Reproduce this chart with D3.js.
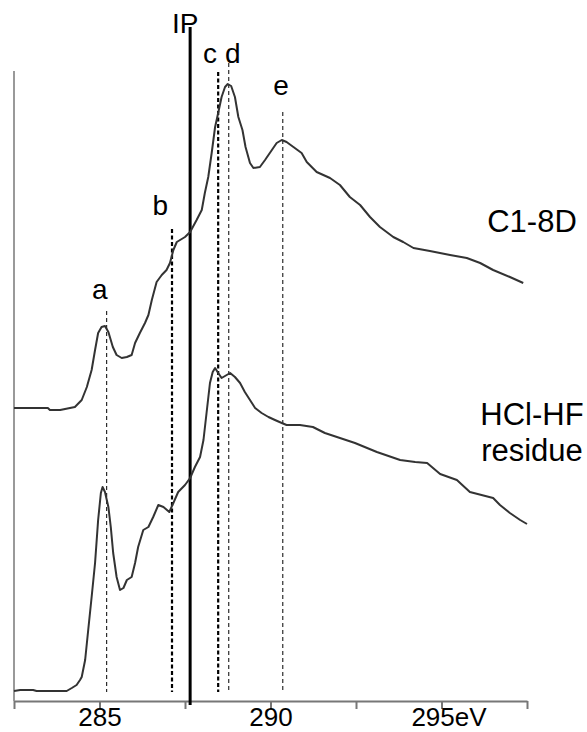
<!DOCTYPE html>
<html>
<head>
<meta charset="utf-8">
<script src="https://cdn.jsdelivr.net/npm/d3@7"></script>
<style>
  body { margin: 0; background: #fff; }
  text { font-family: "Liberation Sans", Arial, sans-serif; fill: #000; }
</style>
</head>
<body>
<div id="chart"></div>
<script>
// photon energy (eV) and intensity (arbitrary units)
const c18Energy = [282.5, 283.49, 283.55, 283.85, 284.28, 284.48, 284.63, 284.77, 284.87, 284.96,
  285.06, 285.16, 285.26, 285.39, 285.5, 285.65, 285.8, 285.94, 286.04, 286.18, 286.33, 286.43,
  286.53, 286.67, 286.82, 286.96, 287.06, 287.16, 287.26, 287.5, 287.65, 287.84, 287.99, 288.08,
  288.18, 288.28, 288.38, 288.47, 288.57, 288.67, 288.75, 288.85, 288.96, 289.06, 289.18, 289.27,
  289.4, 289.5, 289.69, 289.84, 290.04, 290.18, 290.33, 290.47, 290.67, 290.91, 291.06, 291.35,
  291.74, 292.03, 292.32, 292.62, 292.91, 293.2, 293.59, 293.88, 294.18, 294.66, 295.25, 295.74,
  296.13, 296.51, 297.0, 297.39]
const c18Intensity = [293, 293, 291, 291, 294, 301, 314, 331, 351, 368,
  374, 375, 369, 354, 346, 343, 344, 346, 358, 368, 378, 386,
  401, 419, 426, 431, 438, 451, 459, 464, 469, 481, 491, 508,
  524, 548, 574, 588, 604, 614, 617, 615, 604, 584, 571, 554,
  538, 533, 534, 541, 551, 558, 561, 559, 554, 548, 539, 529,
  523, 516, 504, 496, 484, 474, 464, 459, 453, 450, 446, 443,
  438, 431, 424, 418]

const hclEnergy = [282.5, 282.68, 283.06, 283.16, 284.04, 284.19, 284.33, 284.43, 284.48, 284.58,
  284.67, 284.77, 284.87, 284.96, 285.04, 285.09, 285.16, 285.26, 285.33, 285.4, 285.5, 285.6,
  285.7, 285.8, 285.94, 286.04, 286.13, 286.28, 286.43, 286.57, 286.72, 286.87, 287.04, 287.16,
  287.3, 287.5, 287.65, 287.79, 287.94, 288.04, 288.13, 288.23, 288.31, 288.38, 288.47, 288.57,
  288.67, 288.82, 288.96, 289.11, 289.25, 289.4, 289.55, 289.74, 289.94, 290.13, 290.33, 290.47,
  290.86, 291.24, 291.59, 292.03, 292.47, 293.11, 293.79, 294.23, 294.58, 294.96, 295.45, 295.83,
  296.51, 296.71, 297.0, 297.3, 297.5]
const hclIntensity = [10, 11, 11, 10, 10, 13, 16, 21, 24, 41,
  71, 104, 138, 181, 208, 214, 209, 194, 174, 148, 124, 111,
  113, 121, 124, 138, 154, 171, 174, 184, 196, 194, 189, 198,
  209, 216, 223, 234, 244, 261, 288, 318, 329, 333, 328, 323,
  325, 328, 324, 318, 309, 301, 293, 288, 284, 281, 278, 276,
  276, 274, 268, 263, 258, 249, 241, 239, 238, 227, 221, 209,
  203, 196, 188, 181, 177]

// peak assignments
const peakNames = ['a', 'b', 'c', 'd', 'e']
const peakEnergy = [285.21, 287.12, 288.47, 288.78, 290.36]
const peakTop = [390, 472, 629, 638, 589]
const peakBold = [false, true, true, false, false]
const peakLabelEnergy = [285.01, 286.78, 288.23, 288.9, 290.31]
const peakLabelIntensity = [402, 486, 638, 638, 606]

const ipEnergy = 287.65
const ipTop = 674

const tickValues = [282.5, 285, 287.5, 290, 292.5, 295, 297.5]
const tickLabels = { 285: '285', 290: '290', 295: '295eV' }

const seriesLabels = [
  { lines: ['C1-8D'], y: [469] },
  { lines: ['HCl-HF', 'residue'], y: [276, 240] },
]

const width = 587, height = 732

const svg = d3.select('#chart').append('svg')
  .attr('width', width)
  .attr('height', height)

const x = d3.scaleLinear().domain([282.5, 297.5]).range([14, 527])
const y = d3.scaleLinear().domain([0, 630]).range([701, 71])

// axes
svg.append('line')
  .attr('x1', x(282.5)).attr('x2', x(282.5))
  .attr('y1', y(630)).attr('y2', y(0))
  .attr('stroke', '#999').attr('stroke-width', 2)

const xAxis = svg.append('g')
  .attr('transform', `translate(0,${y(0)})`)
  .call(d3.axisBottom(x).tickValues(tickValues).tickSize(8).tickSizeOuter(0)
    .tickFormat((d) => tickLabels[d] || ''))
xAxis.select('.domain').attr('stroke', '#777').attr('stroke-width', 2)
xAxis.selectAll('.tick line').attr('stroke', '#777').attr('stroke-width', 2)
xAxis.selectAll('.tick text')
  .attr('font-size', 26)
  .attr('y', 25)
  .attr('dy', 0)
  .attr('dx', (d) => (d === 295 ? 7 : 0))
  .style('font-family', '"Liberation Sans", Arial, sans-serif')
  .attr('fill', '#000')

// dashed peak markers
peakNames.forEach((name, i) => {
  svg.append('line')
    .attr('x1', x(peakEnergy[i])).attr('x2', x(peakEnergy[i]))
    .attr('y1', y(peakTop[i])).attr('y2', y(9))
    .attr('stroke', '#000')
    .attr('stroke-width', peakBold[i] ? 2.2 : 1)
    .attr('stroke-dasharray', peakBold[i] ? '4,2.5' : '4,3')
  svg.append('text')
    .attr('x', x(peakLabelEnergy[i]))
    .attr('y', y(peakLabelIntensity[i]))
    .attr('text-anchor', 'middle')
    .attr('font-size', 28)
    .text(name)
})

// ionisation potential
svg.append('line')
  .attr('x1', x(ipEnergy)).attr('x2', x(ipEnergy))
  .attr('y1', y(ipTop)).attr('y2', y(-4))
  .attr('stroke', '#000').attr('stroke-width', 3)
svg.append('text')
  .attr('x', x(ipEnergy) - 5)
  .attr('y', y(668))
  .attr('text-anchor', 'middle')
  .attr('font-size', 28)
  .text('IP')

// spectra
const line = d3.line()
  .x((d) => x(d[0]))
  .y((d) => y(d[1]))

const spectra = [
  d3.zip(c18Energy, c18Intensity),
  d3.zip(hclEnergy, hclIntensity),
]
svg.selectAll('.spectrum')
  .data(spectra)
  .join('path')
  .attr('class', 'spectrum')
  .attr('d', line)
  .attr('fill', 'none')
  .attr('stroke', '#333')
  .attr('stroke-width', 2)
  .attr('stroke-linejoin', 'round')

// sample names
seriesLabels.forEach((s) => {
  s.lines.forEach((t, j) => {
    svg.append('text')
      .attr('x', 532)
      .attr('y', y(s.y[j]))
      .attr('text-anchor', 'middle')
      .attr('font-size', 31)
      .text(t)
  })
})
</script>
</body>
</html>
